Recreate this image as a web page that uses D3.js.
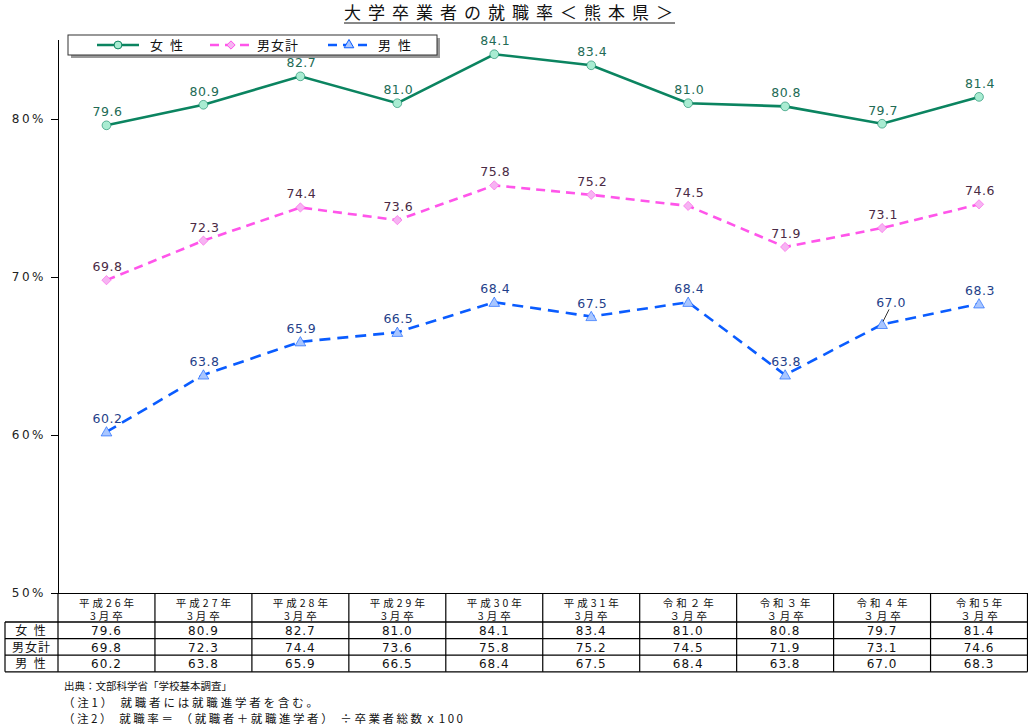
<!DOCTYPE html>
<html>
<head>
<meta charset="utf-8">
<script src="https://cdn.jsdelivr.net/npm/d3@7"></script>
<style>
  body { margin: 0; background: #fff; }
  svg { display: block; }
  .jp { font-family: "Noto Sans CJK JP", sans-serif; }
  .num { font-family: "DejaVu Sans", Verdana, sans-serif; }
</style>
</head>
<body>
<div id="chart"></div>
<script>
const categories = [
  ["平成26年", "3月卒"], ["平成27年", "3月卒"], ["平成28年", "3月卒"],
  ["平成29年", "3月卒"], ["平成30年", "3月卒"], ["平成31年", "3月卒"],
  ["令和２年", "３月卒"], ["令和３年", "３月卒"], ["令和４年", "３月卒"],
  ["令和5年", "３月卒"]
];
const female = [79.6, 80.9, 82.7, 81.0, 84.1, 83.4, 81.0, 80.8, 79.7, 81.4];
const total = [69.8, 72.3, 74.4, 73.6, 75.8, 75.2, 74.5, 71.9, 73.1, 74.6];
const male = [60.2, 63.8, 65.9, 66.5, 68.4, 67.5, 68.4, 63.8, 67.0, 68.3];
const yTicks = [50, 60, 70, 80];
const notes = [
  "出典：文部科学省「学校基本調査」",
  "（注1） 就職者には就職進学者を含む。",
  "（注2） 就職率＝ （就職者＋就職進学者） ÷卒業者総数ｘ100"
];

const series = [
  { name: "女 性", values: female, color: "#0b8460", fill: "#a9ecd2",
    text: "#226b55", dash: null, symbol: d3.symbolCircle, size: 60 },
  { name: "男女計", values: total, color: "#ff55ea", fill: "#f6b4f2",
    text: "#4a2a45", dash: "9,6", symbol: d3.symbolDiamond2, size: 55 },
  { name: "男 性", values: male, color: "#0a5cff", fill: "#a9c6ff",
    text: "#1f3f8a", dash: "11,7", symbol: d3.symbolTriangle, size: 50 }
];

const width = 1028, height = 726;
const svg = d3.select("#chart").append("svg")
  .attr("width", width).attr("height", height);

const plotLeft = 58, plotRight = 1027.5, plotTop = 40, plotBottom = 593;
const x = d3.scaleBand().domain(d3.range(categories.length)).range([plotLeft, plotRight]);
const cx = (i) => x(i) + x.bandwidth() / 2;
const y = d3.scaleLinear().domain([50, 85]).range([plotBottom, plotTop]);

// title
const title = svg.append("text")
  .attr("class", "jp")
  .attr("x", 512).attr("y", 19)
  .attr("text-anchor", "middle")
  .attr("font-size", 17)
  .attr("letter-spacing", 7)
  .attr("fill", "#111")
  .text("大学卒業者の就職率＜熊本県＞");
const tb = title.node().getBBox();
svg.append("line")
  .attr("x1", tb.x).attr("x2", tb.x + tb.width - 5)
  .attr("y1", 23).attr("y2", 23)
  .attr("stroke", "#111").attr("stroke-width", 1);

// y axis
const yAxis = svg.append("g")
  .attr("transform", `translate(${plotLeft},0)`)
  .call(d3.axisLeft(y).tickValues(yTicks).tickSize(7).tickFormat((d) => d + "%"));
yAxis.select(".domain").attr("d", `M0.5,${plotTop}V${plotBottom}`).attr("stroke", "#000");
yAxis.selectAll(".tick line").attr("stroke", "#000");
yAxis.selectAll(".tick text")
  .attr("class", "num")
  .attr("x", -12)
  .attr("font-size", 12)
  .attr("letter-spacing", 2.5)
  .attr("fill", "#222");

// lines
const line = d3.line().x((d, i) => cx(i)).y((d) => y(d));
const labelOffsets = { "男 性": { 8: [8, -8] } };

series.forEach((s) => {
  svg.append("path")
    .datum(s.values)
    .attr("fill", "none")
    .attr("stroke", s.color)
    .attr("stroke-width", 2.6)
    .attr("stroke-dasharray", s.dash)
    .attr("d", line);

  svg.append("g")
    .selectAll("path")
    .data(s.values)
    .join("path")
    .attr("transform", (d, i) => `translate(${cx(i)},${y(d) + (s.symbol === d3.symbolTriangle ? 1 : 0)})`)
    .attr("d", d3.symbol(s.symbol, s.size))
    .attr("fill", s.fill)
    .attr("stroke", s.color)
    .attr("stroke-width", 1)
    .attr("stroke-opacity", 0.6);

  const offs = labelOffsets[s.name] || {};
  const lab = svg.append("g");
  lab.selectAll("text")
    .data(s.values)
    .join("text")
    .attr("class", "num")
    .attr("x", (d, i) => cx(i) + 1 + (offs[i] ? offs[i][0] : 0))
    .attr("y", (d, i) => y(d) - 9 + (offs[i] ? offs[i][1] : 0))
    .attr("text-anchor", "middle")
    .attr("font-size", 12.5)
    .attr("letter-spacing", 0.5)
    .attr("fill", s.text)
    .text((d) => d.toFixed(1));
  Object.keys(offs).forEach((k) => {
    const i = +k;
    lab.append("line")
      .attr("x1", cx(i) + 7).attr("y1", y(s.values[i]) - 15)
      .attr("x2", cx(i) + 1).attr("y2", y(s.values[i]) - 3)
      .attr("stroke", "#000").attr("stroke-width", 0.8);
  });
});

// legend
const lg = svg.append("g").attr("transform", "translate(68,35)");
lg.append("rect").attr("x", 3).attr("y", 3).attr("width", 369).attr("height", 20).attr("fill", "#999");
lg.append("rect").attr("width", 369).attr("height", 20).attr("fill", "#fff").attr("stroke", "#333");
const legendX = [29, 142, 260];
const legendTextX = [82, 189, 310];
series.forEach((s, k) => {
  lg.append("line")
    .attr("x1", legendX[k]).attr("x2", legendX[k] + 42)
    .attr("y1", 10).attr("y2", 10)
    .attr("stroke", s.color).attr("stroke-width", 2.6)
    .attr("stroke-dasharray", s.dash ? "9,6" : null);
  lg.append("path")
    .attr("transform", `translate(${legendX[k] + 21},10)`)
    .attr("d", d3.symbol(s.symbol, s.size * 0.8))
    .attr("fill", s.fill).attr("stroke", s.color).attr("stroke-width", 1);
  lg.append("text")
    .attr("class", "jp")
    .attr("x", legendTextX[k]).attr("y", 15)
    .attr("font-size", 13)
    .attr("letter-spacing", s.name.includes(" ") ? 2 : 1)
    .attr("fill", "#111")
    .text(s.name);
});

// data table
const tableTop = plotBottom, headH = 29, rowH = 16.6, labelLeft = 5;
const tg = svg.append("g");
const hLine = (x1, x2, yy, w) => tg.append("line").attr("x1", x1).attr("x2", x2)
  .attr("y1", yy).attr("y2", yy).attr("stroke", "#000").attr("stroke-width", w || 1);
const vLine = (xx, y1, y2) => tg.append("line").attr("x1", xx).attr("x2", xx)
  .attr("y1", y1).attr("y2", y2).attr("stroke", "#000").attr("stroke-width", 1.2);

hLine(plotLeft, plotRight, tableTop + 0.5);
for (let r = 0; r <= series.length; r++) {
  hLine(labelLeft, plotRight, tableTop + headH + r * rowH, r === 0 ? 1.5 : 1.2);
}
const tableBottom = tableTop + headH + series.length * rowH;
vLine(labelLeft, tableTop + headH, tableBottom);
d3.range(categories.length + 1).forEach((i) => {
  const xx = i === categories.length ? plotRight : x(i);
  vLine(xx, tableTop, tableBottom);
});

categories.forEach((c, i) => {
  const t = tg.append("text")
    .attr("class", "jp")
    .attr("text-anchor", "middle")
    .attr("font-size", 10.5)
    .attr("letter-spacing", 3)
    .attr("fill", "#111");
  c.forEach((part, j) => {
    t.append("tspan")
      .attr("x", cx(i) + 1.5).attr("y", tableTop + 14 + j * 13)
      .text(part);
  });
});

series.forEach((s, r) => {
  const yy = tableTop + headH + r * rowH + 13;
  tg.append("text")
    .attr("class", "jp")
    .attr("x", (labelLeft + plotLeft) / 2).attr("y", yy)
    .attr("text-anchor", "middle")
    .attr("font-size", 12)
    .attr("letter-spacing", s.name.includes(" ") ? 2 : 1)
    .attr("fill", "#111")
    .text(s.name);
  tg.selectAll(null)
    .data(s.values)
    .join("text")
    .attr("class", "num")
    .attr("x", (d, i) => cx(i)).attr("y", yy)
    .attr("text-anchor", "middle")
    .attr("font-size", 12)
    .attr("letter-spacing", 1)
    .attr("fill", "#111")
    .text((d) => d.toFixed(1));
});

// notes
const noteWidths = [null, 255, 400];
notes.forEach((n, k) => {
  const t = svg.append("text")
    .attr("class", "jp")
    .attr("x", k === 0 ? 64 : 63).attr("y", 690 + k * 16.5)
    .attr("font-size", k === 0 ? 10.5 : 11.5)
    .attr("fill", "#111")
    .text(n);
  if (noteWidths[k]) t.attr("textLength", noteWidths[k]).attr("lengthAdjust", "spacing");
});
</script>
</body>
</html>
